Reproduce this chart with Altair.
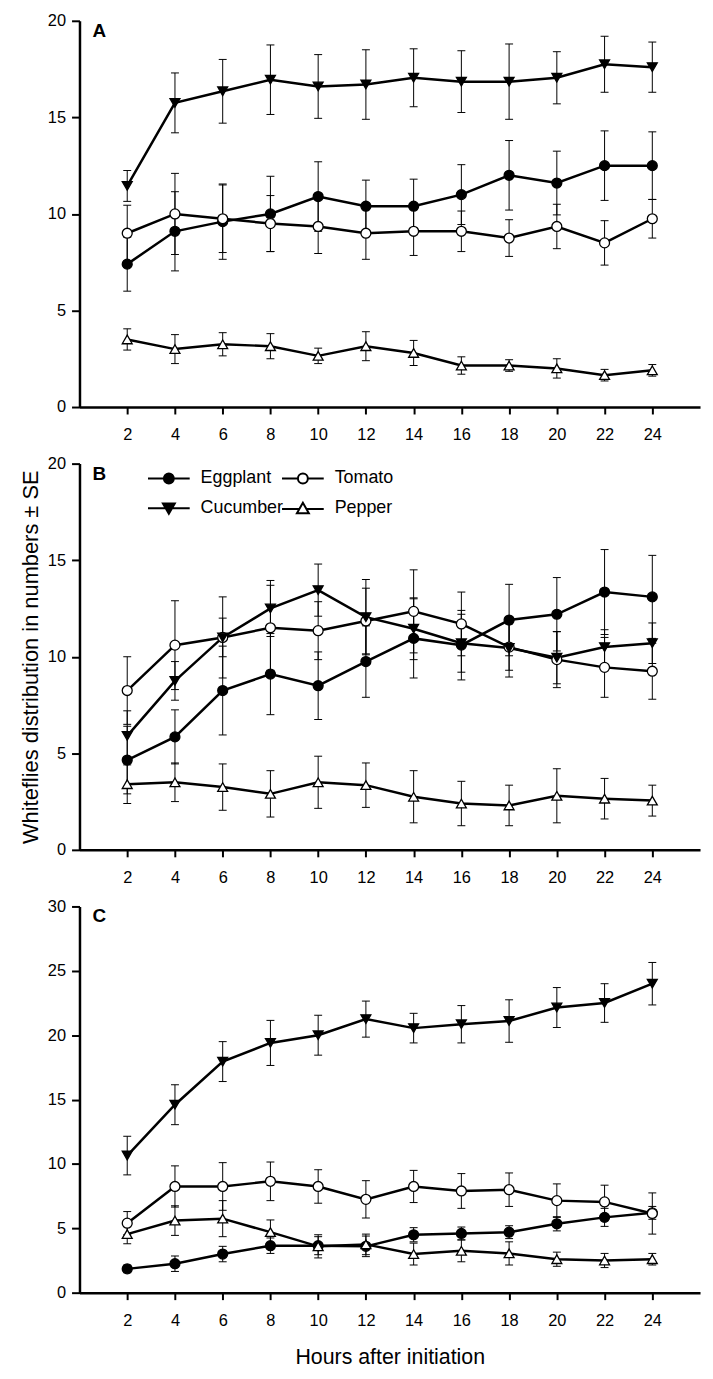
import altair as alt
import pandas as pd

FONT = "Liberation Sans"

hours = [2, 4, 6, 8, 10, 12, 14, 16, 18, 20, 22, 24]
series_order = ["Eggplant", "Tomato", "Cucumber", "Pepper"]
panel_letters = ["A", "B", "C"]

# ---- Panel A (means and SE) ----
a_eggplant = [7.4, 9.1, 9.6, 10.0, 10.9, 10.4, 10.4, 11.0, 12.0, 11.6, 12.5, 12.5]
a_eggplant_se = [1.4, 2.05, 1.95, 1.95, 1.8, 1.35, 1.4, 1.55, 1.8, 1.65, 1.8, 1.75]
a_tomato = [9.0, 10.0, 9.75, 9.5, 9.35, 9.0, 9.1, 9.1, 8.75, 9.35, 8.5, 9.75]
a_tomato_se = [1.45, 2.1, 1.75, 1.45, 1.4, 1.35, 1.25, 1.05, 0.95, 1.15, 1.15, 1.0]
a_cucumber = [11.45, 15.75, 16.35, 16.95, 16.6, 16.7, 17.05, 16.85, 16.85, 17.05, 17.75, 17.6]
a_cucumber_se = [0.8, 1.55, 1.65, 1.8, 1.65, 1.8, 1.5, 1.6, 1.95, 1.35, 1.45, 1.3]
a_pepper = [3.5, 3.0, 3.25, 3.15, 2.65, 3.15, 2.8, 2.15, 2.15, 2.0, 1.65, 1.9]
a_pepper_se = [0.55, 0.75, 0.6, 0.65, 0.4, 0.75, 0.65, 0.45, 0.3, 0.5, 0.3, 0.3]

# ---- Panel B ----
b_eggplant = [4.65, 5.85, 8.25, 9.1, 8.5, 9.75, 10.95, 10.6, 11.9, 12.2, 13.35, 13.1]
b_eggplant_se = [1.75, 1.4, 2.3, 2.1, 1.75, 1.85, 2.05, 1.8, 1.85, 1.9, 2.2, 2.15]
b_tomato = [8.25, 10.6, 11.0, 11.5, 11.35, 11.85, 12.35, 11.7, 10.5, 9.85, 9.45, 9.25]
b_tomato_se = [1.75, 2.3, 2.1, 2.2, 1.5, 1.7, 2.15, 1.65, 1.2, 1.45, 1.55, 1.45]
b_cucumber = [5.9, 8.75, 11.0, 12.5, 13.45, 12.05, 11.45, 10.7, 10.45, 9.95, 10.5, 10.7]
b_cucumber_se = [1.3, 1.0, 1.0, 1.45, 1.35, 1.95, 1.6, 1.5, 1.5, 1.35, 0.9, 1.05]
b_pepper = [3.4, 3.5, 3.25, 2.9, 3.5, 3.35, 2.75, 2.4, 2.3, 2.8, 2.65, 2.55]
b_pepper_se = [1.0, 1.0, 1.2, 1.2, 1.35, 1.15, 1.35, 1.15, 1.05, 1.4, 1.05, 0.8]

# ---- Panel C ----
c_eggplant = [1.85, 2.25, 3.0, 3.65, 3.65, 3.6, 4.5, 4.6, 4.7, 5.35, 5.85, 6.2]
c_eggplant_se = [0.3, 0.6, 0.6, 0.6, 0.7, 0.8, 0.55, 0.5, 0.5, 0.55, 0.7, 0.5]
c_tomato = [5.4, 8.25, 8.25, 8.65, 8.25, 7.25, 8.25, 7.9, 8.0, 7.15, 7.05, 6.15]
c_tomato_se = [0.9, 1.6, 1.85, 1.5, 1.3, 1.45, 1.25, 1.35, 1.3, 1.3, 1.3, 1.6]
c_cucumber = [10.65, 14.6, 17.95, 19.4, 20.0, 21.25, 20.55, 20.85, 21.1, 22.15, 22.5, 24.0]
c_cucumber_se = [1.5, 1.55, 1.55, 1.75, 1.55, 1.4, 1.15, 1.45, 1.65, 1.55, 1.5, 1.65]
c_pepper = [4.55, 5.6, 5.75, 4.7, 3.6, 3.75, 3.0, 3.25, 3.05, 2.6, 2.5, 2.6]
c_pepper_se = [0.75, 1.15, 1.4, 0.95, 0.9, 0.8, 0.85, 0.85, 0.9, 0.55, 0.55, 0.45]


def build_df(means, ses):
    rows = []
    for s in series_order:
        for h, m, e in zip(hours, means[s], ses[s]):
            rows.append({"Hours": h, "Series": s, "Mean": m,
                         "lo": m - e, "hi": m + e})
    return pd.DataFrame(rows)


df_a = build_df(
    {"Eggplant": a_eggplant, "Tomato": a_tomato, "Cucumber": a_cucumber, "Pepper": a_pepper},
    {"Eggplant": a_eggplant_se, "Tomato": a_tomato_se, "Cucumber": a_cucumber_se, "Pepper": a_pepper_se})
df_b = build_df(
    {"Eggplant": b_eggplant, "Tomato": b_tomato, "Cucumber": b_cucumber, "Pepper": b_pepper},
    {"Eggplant": b_eggplant_se, "Tomato": b_tomato_se, "Cucumber": b_cucumber_se, "Pepper": b_pepper_se})
df_c = build_df(
    {"Eggplant": c_eggplant, "Tomato": c_tomato, "Cucumber": c_cucumber, "Pepper": c_pepper},
    {"Eggplant": c_eggplant_se, "Tomato": c_tomato_se, "Cucumber": c_cucumber_se, "Pepper": c_pepper_se})

shape_scale = alt.Scale(domain=series_order,
                        range=["circle", "circle", "triangle-down", "triangle-up"])
fill_scale = alt.Scale(domain=series_order, range=["black", "white", "black", "white"])
stroke_scale = alt.Scale(domain=series_order, range=["black", "black", "black", "black"])

# legend symbols: a line segment with the marker in the middle
legend_paths = [
    "M-1.4,0H-0.333M0.333,0H1.4M-0.333,0A0.333,0.333,0,1,1,0.333,0A0.333,0.333,0,1,1,-0.333,0Z",
    "M-1.4,0H-0.333M0.333,0H1.4M-0.333,0A0.333,0.333,0,1,1,0.333,0A0.333,0.333,0,1,1,-0.333,0Z",
    "M-1.4,0H1.4M-0.4,-0.33L0.4,-0.33L0,0.37Z",
    "M-1.4,0.05H-0.22M0.22,0.05H1.4M0,-0.37L0.4,0.33L-0.4,0.33Z",
]
legend_shape_scale = alt.Scale(domain=series_order, range=legend_paths)

W, H = 625, 389


def panel(df, ymax, letter, ytitle=None, xtitle=None, with_legend=False):
    base = alt.Chart(df)
    x_axis = alt.Axis(values=hours, title=xtitle, titleFontSize=21.5,
                      titlePadding=17.5, titleFontWeight="normal")
    y_axis = alt.Axis(values=list(range(0, ymax + 1, 5)), title=ytitle,
                      titleFontSize=22, titlePadding=5, titleFontWeight="normal")
    x_scale = alt.Scale(domain=[0, 26], nice=False, zero=False)
    y_scale = alt.Scale(domain=[0, ymax], nice=False)

    def X():
        return alt.X("Hours:Q", scale=x_scale, axis=x_axis)

    def Y(field):
        return alt.Y(field, type="quantitative", scale=y_scale, axis=y_axis)

    rules = base.mark_rule(color="black", strokeWidth=1).encode(
        x=X(), y=Y("lo"), y2=alt.Y2("hi"))
    cap_hi = base.mark_tick(orient="horizontal", size=8, thickness=1, color="black",
                            opacity=1).encode(x=X(), y=Y("hi"))
    cap_lo = base.mark_tick(orient="horizontal", size=8, thickness=1, color="black",
                            opacity=1).encode(x=X(), y=Y("lo"))
    line = base.mark_line(color="black", strokeWidth=2.5).encode(
        x=X(), y=Y("Mean"), detail=alt.Detail("Series:N"))
    points = base.mark_point(filled=True, size=100, opacity=1, stroke="black",
                             strokeWidth=1.3).encode(
        x=X(), y=Y("Mean"),
        shape=alt.Shape("Series:N", scale=shape_scale, legend=None),
        fill=alt.Fill("Series:N", scale=fill_scale, legend=None))
    tag = alt.Chart(pd.DataFrame({"tag": [letter]})).mark_text(
        font=FONT, fontSize=19, fontWeight="bold", color="black",
        align="left", baseline="alphabetic").encode(
        text="tag:N", x=alt.value(13), y=alt.value(16))
    layers = [rules, cap_hi, cap_lo, line, points, tag]

    if with_legend:
        leg = alt.Legend(title=None, orient="none", legendX=74, legendY=-1,
                         columns=2, direction="horizontal", symbolSize=900,
                         symbolStrokeWidth=2, symbolStrokeColor="black",
                         symbolOpacity=1, labelFont=FONT, labelFontSize=18,
                         labelColor="black", labelOffset=16, columnPadding=-6,
                         rowPadding=5, padding=0, labelLimit=300)
        legend_layer = base.transform_filter("false").mark_point(
            filled=True, size=900, opacity=1, strokeWidth=2).encode(
            x=X(), y=Y("Mean"),
            shape=alt.Shape("Series:N", scale=legend_shape_scale, legend=leg),
            fill=alt.Fill("Series:N", scale=fill_scale, legend=leg),
            stroke=alt.Stroke("Series:N", scale=stroke_scale, legend=leg))
        layers.append(legend_layer)

    chart = alt.layer(*layers).properties(width=W, height=H)
    if with_legend:
        chart = chart.resolve_scale(shape="independent", fill="independent",
                                    stroke="independent")
    return chart


chart_a = panel(df_a, 20, panel_letters[0])
chart_b = panel(df_b, 20, panel_letters[1],
                ytitle="Whiteflies distribution in numbers ± SE", with_legend=True)
chart_c = panel(df_c, 30, panel_letters[2], xtitle="Hours after initiation")

chart = alt.vconcat(chart_a, chart_b, chart_c, spacing=12).properties(
    padding={"left": 11, "top": 0, "right": 5, "bottom": 0},
    background="white"
).configure_view(strokeWidth=0).configure_axis(
    domainColor="black", domainWidth=2.5, tickColor="black", tickWidth=2,
    labelFont=FONT, labelFontSize=16.5, labelColor="black",
    titleFont=FONT, titleColor="black", grid=False
).configure_axisX(tickSize=7, labelPadding=13).configure_axisY(
    tickSize=8, labelPadding=6)

chart.save("out.html", embed_options={"renderer": "svg", "actions": False})
